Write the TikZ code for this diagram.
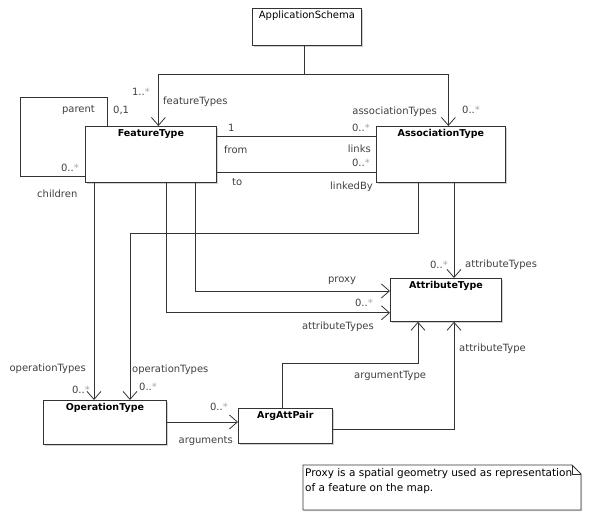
\documentclass[tikz,border=0pt]{standalone}
\usepackage{fontspec}
\setmainfont{DejaVu Sans}
\usetikzlibrary{positioning,arrows.meta,calc,shadows}

\tikzset{
  umlclass/.style={draw=black!80, fill=white, line width=0.8pt, anchor=north west, inner sep=0pt,
    drop shadow={shadow xshift=1.2pt, shadow yshift=-1.2pt, opacity=0.3, fill=black!60}},
  classname/.style={anchor=north, yshift=-3pt, inner sep=0pt, font=\bfseries\fontsize{9.5}{11}\selectfont},
  link/.style={draw=black!80, line width=0.8pt},
  nav/.style={link, -{Straight Barb[length=8pt,width=14pt,line width=0.8pt]}},
  role/.style={font=\fontsize{10}{12}\selectfont, text=black!75, inner sep=0pt},
}
\newcommand{\many}[1]{#1..{\color{black!35}*}}

\begin{document}
\begin{tikzpicture}[x=1pt,y=-1pt]
  \useasboundingbox (0,0) rectangle (590,518);
  % classes
  \node[umlclass, minimum width=109pt, minimum height=37pt,
    label={[classname, font=\fontsize{10}{12}\selectfont]north:ApplicationSchema}] (app) at (252,8) {};
  \node[umlclass, minimum width=131pt, minimum height=56pt,
    label={[classname]north:FeatureType}] (feat) at (85,126) {};
  \node[umlclass, minimum width=129pt, minimum height=56pt,
    label={[classname]north:AssociationType}] (assoc) at (376,126) {};
  \node[umlclass, minimum width=111pt, minimum height=43pt,
    label={[classname]north:AttributeType}] (attr) at (390,278) {};
  \node[umlclass, minimum width=123pt, minimum height=44pt,
    label={[classname]north:OperationType}] (op) at (43,400) {};
  \node[umlclass, minimum width=94pt, minimum height=35pt,
    label={[classname]north:ArgAttPair}] (arg) at (238,408) {};

  % associations
  \draw[nav] ([xshift=-3pt]app.south) -- ++(0,29) coordinate (split) -| ([xshift=7.5pt]feat.north);
  \draw[nav] (split) -| ([xshift=7.5pt]assoc.north);
  \draw[link] ([xshift=22pt]feat.north west) |- (20,97) |- ([yshift=6pt]feat.south west);
  \draw[link] ([yshift=-10pt]feat.north east) -- ([yshift=-10pt]assoc.north west);
  \draw[link] ([yshift=10pt]feat.south east) -- ([yshift=10pt]assoc.south west);
  \draw[nav] ([xshift=9pt]feat.south west) -- ([xshift=51pt]op.north west);
  \draw[nav] ([xshift=42pt]assoc.south west) -- ++(0,51) -| ([xshift=87pt]op.north west);
  \draw[nav] ([xshift=110pt]feat.south west) |- ([yshift=-13pt]attr.north west);
  \draw[nav] ([xshift=81pt]feat.south west) |- ([yshift=9pt]attr.south west);
  \draw[nav] ([xshift=78pt]assoc.south west) -- ([xshift=64pt]attr.north west);
  \draw[nav] ([xshift=44pt]arg.north west) -- ++(0,-45) -| ([xshift=28pt]attr.south west);
  \draw[nav] ([yshift=-21pt]arg.north east) -| ([xshift=64pt]attr.south west);
  \draw[nav] ([yshift=-22pt]op.north east) -- ([yshift=-14pt]arg.north west);

  % role names and multiplicities
  \foreach \x/\y/\a/\t [count=\i] in {
      150/92/east/{\many{1}}, 163/102/west/featureTypes,
      437/112/east/associationTypes, 462/110/west/{\many{0}},
      95/110/east/parent, 113/110/west/{0,1}, 79/168/east/{\many{0}}, 37/194/west/children,
      228/128/west/1, 224/150/west/from, 232/182/west/to,
      370/128/east/{\many{0}}, 371/149/east/links, 370/163/east/{\many{0}}, 373/187/east/linkedBy,
      448/265/east/{\many{0}}, 465/265/west/attributeTypes,
      342/281/center/proxy, 373/303/east/{\many{0}}, 374/327/east/attributeTypes,
      459/349/west/attributeType, 354/376/west/argumentType,
      86/369/east/operationTypes, 90/390/east/{\many{0}},
      132/370/west/operationTypes, 139/387/west/{\many{0}},
      228/407/east/{\many{0}}, 233/441/east/arguments}
    \node[role, anchor=\a] (role\i) at (\x,\y) {\t};

  % note
  \draw[line width=0.8pt, draw=black!80, fill=white, drop shadow={shadow xshift=1.2pt, shadow yshift=-1.2pt, opacity=0.3}]
    (303,465) -- (572,465) -- (581,474) -- (581,510) -- (303,510) -- cycle;
  \draw[line width=0.8pt, draw=black!80] (572,465) |- (581,474);
  \node[anchor=north west, align=left, inner sep=0pt, font=\fontsize{10.5}{15}\selectfont] (note) at (305,468)
    {Proxy is a spatial geometry used as representation\\of a feature on the map.};
\end{tikzpicture}
\end{document}
